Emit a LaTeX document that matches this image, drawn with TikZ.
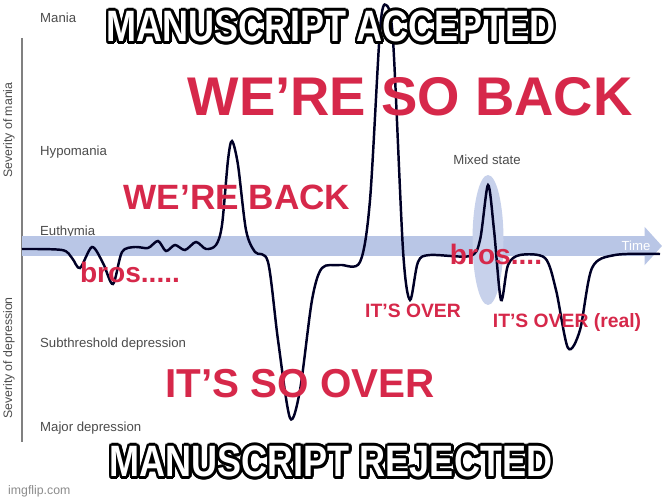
\documentclass[tikz,border=0pt]{standalone}
\usepackage{fontspec}
\setmainfont{Liberation Sans}
\usepackage[copies]{contour}
\contourlength{1.6pt}
\usetikzlibrary{arrows.meta, shapes.geometric}
\definecolor{memered}{HTML}{D6284A}
\definecolor{timeblue}{HTML}{B9C6E6}
\tikzset{
  level/.style={anchor=west, font=\fontsize{7.5}{8}\selectfont, text=black!70},
  redtext/.style={text=memered, font=\bfseries},
  caption/.style={font=\fontsize{25}{26}\selectfont\bfseries, text=white},
}
\newcommand{\memetext}[1]{\contour{black}{\scalebox{0.82}[1]{#1}}}

\begin{document}
\begin{tikzpicture}[x=0.02cm, y=-0.02cm]
  \useasboundingbox[fill=white] (0,0) rectangle (662,500);
  % axes
  \coordinate (top) at (22,38);
  \coordinate (bot) at (22,442);
  \draw[black!50, line width=0.8pt] (top) -- (bot);
  \node (mania) [rotate=90, font=\fontsize{7}{8}\selectfont, text=black!70] at (9,130) {Severity of mania};
  \node (depr) [rotate=90, font=\fontsize{7}{8}\selectfont, text=black!70] at (9,358) {Severity of depression};
  \node (l1) [level] at (34,18) {Mania};
  \node (l2) [level] at (34,152) {Hypomania};
  \node (l3) [level] at (34,232) {Euthymia};
  \node (l4) [level] at (34,344) {Subthreshold depression};
  \node (l5) [level] at (34,428) {Major depression};
  % time band
  \coordinate (tstart) at (22,246);
  \coordinate (tend) at (662,246);
  \draw[timeblue, line width=0.4cm, -{Triangle[length=0.35cm,width=0.75cm]}] (tstart) -- (tend);
  \node (time) [font=\fontsize{7.5}{8}\selectfont, text=white] at (636,246) {Time};
  % mixed state
  \node (mixed) [ellipse, fill=timeblue!80, minimum width=0.62cm, minimum height=2.6cm, inner sep=0pt] at (488,240) {};
  \node (mixlab) [font=\fontsize{7.5}{8}\selectfont, text=black!70] at (487,160) {Mixed state};
  % mood curve
  \draw[line width=1.4pt, black!85!blue] plot[smooth, tension=0.5] coordinates {
    (22,249) (62,250) (72,258) (80,268) (92,247) (103,263) (113,284) (122,252)
    (135,247) (148,248) (158,241) (166,251) (175,245) (185,250) (196,242)
    (206,249) (216,245) (222,225) (228,160) (232,141) (238,165) (246,230)
    (255,252) (268,262) (278,340) (290,418) (300,390) (312,300) (322,268)
    (340,265) (360,262) (370,200) (380,30) (386,5) (393,40) (403,250)
    (410,300) (418,262) (430,255) (470,256) (480,240) (488,185) (494,230)
    (501,300) (508,265) (520,255) (545,258) (556,290) (568,348) (580,330)
    (592,268) (615,255) (660,254)};
  % red labels
  \node (soback) [redtext, font=\fontsize{31}{32}\selectfont\bfseries] at (410,97) {WE’RE SO BACK};
  \node (back) [redtext, font=\fontsize{20}{21}\selectfont\bfseries] at (237,197) {WE’RE BACK};
  \node (bros1) [redtext, font=\fontsize{16}{17}\selectfont\bfseries] at (130,272) {bros.....};
  \node (bros2) [redtext, font=\fontsize{16}{17}\selectfont\bfseries] at (496,254) {bros....};
  \node (over) [redtext, font=\fontsize{11}{12}\selectfont\bfseries] at (413,311) {IT’S OVER};
  \node (real) [redtext, font=\fontsize{11}{12}\selectfont\bfseries] at (567,322) {IT’S OVER (real)};
  \node (soover) [redtext, font=\fontsize{23}{24}\selectfont\bfseries] at (300,384) {IT’S SO OVER};
  % captions
  \node (accepted) [caption] at (331,28) {\memetext{MANUSCRIPT ACCEPTED}};
  \node (rejected) [caption] at (331,463) {\memetext{MANUSCRIPT REJECTED}};
  \node (flip) [font=\fontsize{7}{8}\selectfont, text=black!45, anchor=west] at (2,491) {imgflip.com};
\end{tikzpicture}
\end{document}
